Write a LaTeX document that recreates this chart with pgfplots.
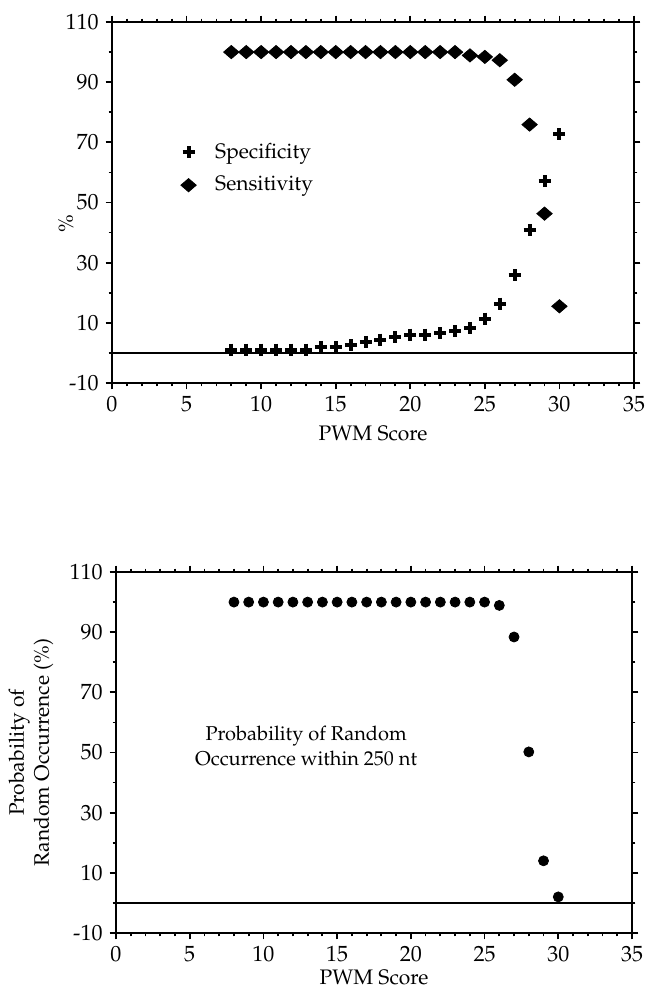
\documentclass[border=0pt]{standalone}
\usepackage[T1]{fontenc}
\usepackage{mathpazo}
\usepackage{pgfplots}
\pgfplotsset{compat=1.18}
\pgfplotsset{
  myax/.style={
    scale only axis,
    width=261pt, height=180.5pt,
    xmin=0, xmax=35, ymin=-10, ymax=110,
    xtick={0,5,...,35}, minor x tick num=4,
    ytick={-10,10,...,110}, minor ytick={0,20,...,100},
    yticklabels={-10,10,30,50,70,90,110},
    tick align=outside, tick pos=both,
    major tick length=3.2pt, minor tick length=1.7pt,
    every tick/.style={black, line width=0.9pt},
    axis line style={line width=1.25pt},
    tick label style={font=\fontsize{11}{13}\selectfont},
    label style={font=\fontsize{10.5}{12.5}\selectfont},
    xlabel={PWM Score},
    clip=false,
  }
}
\begin{document}
\begin{tikzpicture}
% top panel
\begin{axis}[myax,
  at={(56pt,-191.5pt)}, anchor=south west,
  ylabel={\%},
  ylabel style={at={(axis description cs:-0.088,0.44)}, anchor=center},
  legend style={at={(axis cs:4.19,72.5)}, anchor=north west, draw=none, fill=none,
    font=\fontsize{10.5}{12.5}\selectfont, row sep=3.5pt, column sep=7.5pt},
  legend cell align=left,
]
\addplot[only marks, mark=+, mark size=3pt, line width=2pt, black] coordinates {
(8,1.1) (9,1.1) (10,1.1) (11,1.1) (12,1.1) (13,1.1) (14,2.0) (15,2.0)
(16,2.5) (17,3.7) (18,4.4) (19,5.3) (20,6.1) (21,6.1) (22,6.6) (23,7.2)
(24,8.3) (25,11.4) (26,16.4) (27,25.8) (28,40.8) (29,57.0) (30,72.7)
};
\addlegendentry{Specificity}
\addplot[only marks, mark=diamond*, mark size=3.3pt, black, mark options={xscale=1.55}] coordinates {
(8,100) (9,100) (10,100) (11,100) (12,100) (13,100) (14,100) (15,100)
(16,100) (17,100) (18,100) (19,100) (20,100) (21,100) (22,100) (23,100)
(24,98.9) (25,98.4) (26,97.3) (27,90.8) (28,75.9) (29,46.3) (30,15.5)
};
\addlegendentry{Sensitivity}
\addplot[black, line width=0.7pt, no marks, forget plot] coordinates {(0,0) (35,0)};
\end{axis}
% bottom panel
\begin{axis}[myax,
  at={(58pt,-466.5pt)}, anchor=south west,
  width=258pt,
  xlabel style={yshift=3pt},
  ylabel={Probability of\\Random Occurrence (\%)},
  ylabel style={align=center, at={(axis description cs:-0.165,0.5)}, anchor=center},
]
\addplot[only marks, mark=*, mark size=2.5pt, black] coordinates {
(8,100) (9,100) (10,100) (11,100) (12,100) (13,100) (14,100) (15,100)
(16,100) (17,100) (18,100) (19,100) (20,100) (21,100) (22,100) (23,100)
(24,100) (25,100) (26,98.9) (27,88.4) (28,50.2) (29,14.0) (30,2.0)
};
\addplot[black, line width=0.7pt, no marks] coordinates {(0,0) (35,0)};
\node[align=center, font=\fontsize{10}{12.5}\selectfont] at (axis cs:12.9,52.2)
  {Probability of Random\\Occurrence within 250 nt};
\end{axis}
\pgfresetboundingbox
\useasboundingbox (0,0) rectangle (323.5pt,-495.5pt);
\end{tikzpicture}
\end{document}
